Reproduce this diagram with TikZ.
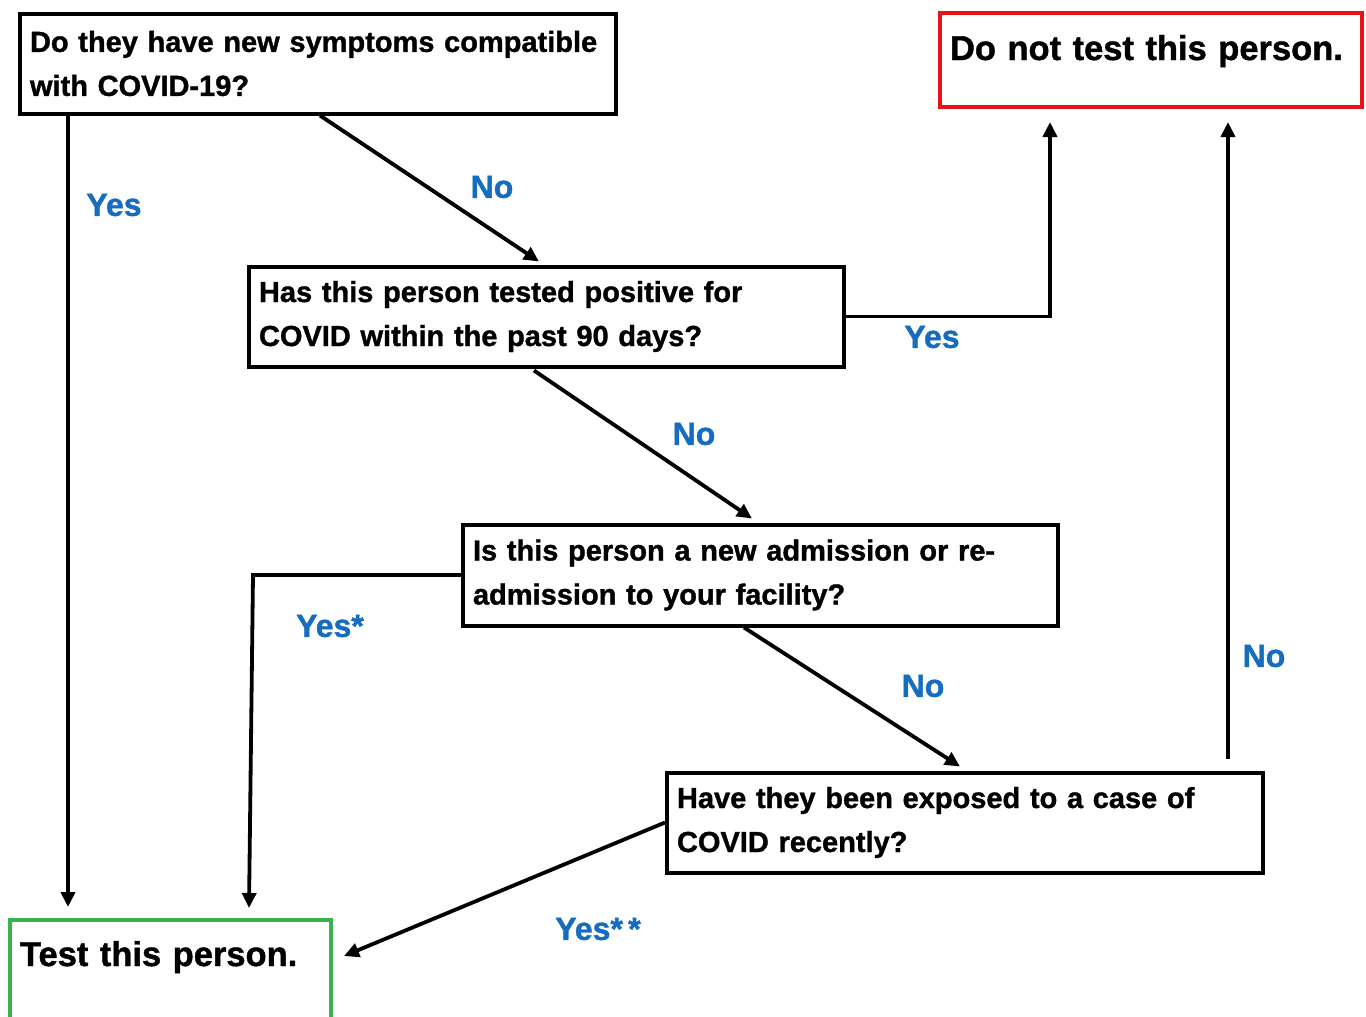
\documentclass[tikz,border=0pt]{standalone}
\usepackage{fontspec}
\setmainfont{Liberation Sans}[BoldFeatures={FakeBold=1.2}]
\usetikzlibrary{arrows.meta,calc}
\definecolor{lblblue}{RGB}{22,108,190}
\definecolor{redbox}{RGB}{232,18,24}
\definecolor{greenbox}{RGB}{58,178,80}
\begin{document}
\begin{tikzpicture}[x=1pt,y=-1pt,
  qbox/.style={draw=black, line width=4pt, rectangle, inner xsep=10pt, inner ysep=0pt,
    align=left, font=\bfseries\fontsize{29}{44}\selectfont},
  endbox/.style={rectangle, line width=4pt, inner xsep=10pt, inner ysep=0pt, align=left,
    font=\bfseries\fontsize{34.5}{40}\selectfont},
  lbl/.style={text=lblblue, font=\bfseries\fontsize{32}{36}\selectfont},
  conn/.style={line width=3.8pt, -{Triangle[length=15pt,width=14pt]}}]
\clip (0,0) rectangle (1366,1017);
\fill[white] (0,0) rectangle (1366,1017);

\node[qbox, minimum width=596pt, minimum height=100pt, text width=576pt] (q1) at (318,63.5)
  {\mbox{Do they have new symptoms compatible}\\with COVID-19?};
\node[qbox, minimum width=595pt, minimum height=100pt, text width=575pt] (q2) at (546.5,316.5)
  {\mbox{Has this person tested positive for}\\COVID within the past 90 days?};
\node[qbox, minimum width=595pt, minimum height=101pt, text width=575pt] (q3) at (760.5,575)
  {\mbox{Is this person a new admission or re-}\\admission to your facility?};
\node[qbox, minimum width=596pt, minimum height=100pt, text width=576pt] (q4) at (965,822.5)
  {\mbox{Have they been exposed to a case of}\\COVID recently?};
\node[endbox, draw=redbox, minimum width=422pt, text width=402pt, text height=47pt, text depth=47pt] (nt) at (1151,60)
  {Do not test this person.};
\node[endbox, draw=greenbox, minimum width=321pt, text width=301pt, text height=46pt, text depth=58pt] (ts) at (170.5,972)
  {Test this person.};

\draw[conn] ($(q1.south west)+(50,0)$) -- ($(ts.north west)+(60,-11)$);
\draw[conn] ($(q1.south west)+(302,0)$) -- ($(q2.north west)+(292,-3)$);
\draw[conn] (q2.east) -| ($(nt.south west)+(112,13)$);
\draw[conn] ($(q2.south west)+(287,2)$) -- ($(q3.north west)+(291,-4)$);
\draw[conn] (q3.west) -- ($(q3.west)+(-208,0)$) -- ($(ts.north west)+(241,-10)$);
\draw[conn] ($(q3.south west)+(283,0)$) -- ($(q4.north west)+(295,-4)$);
\draw[conn] ($(q4.north west)+(563,-12)$) -- ($(nt.south west)+(290,13)$);
\draw[conn] (q4.west) -- ($(ts.north east)+(11,38)$);

\node[lbl] (l1) at (114,205) {Yes};
\node[lbl] (l2) at (492,187) {No};
\node[lbl] (l3) at (932,337) {Yes};
\node[lbl] (l4) at (694,434) {No};
\node[lbl] (l5) at (330,626) {Yes*};
\node[lbl] (l6) at (923,686) {No};
\node[lbl] (l7) at (1264,656) {No};
\node[lbl] (l8) at (598,929) {Yes{*}\,{*}};
\end{tikzpicture}
\end{document}
